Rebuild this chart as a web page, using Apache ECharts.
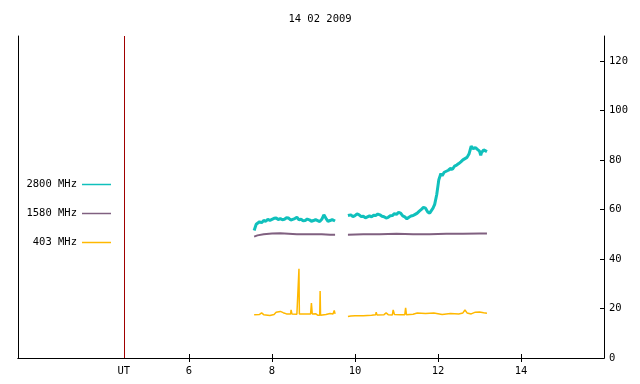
<!DOCTYPE html>
<html>
<head>
<meta charset="utf-8">
<script src="https://cdn.jsdelivr.net/npm/echarts@6/dist/echarts.min.js"></script>
<style>
  html, body { margin: 0; padding: 0; background: #fff; }
  #main { width: 640px; height: 384px; }
</style>
</head>
<body>
<div id="main"></div>
<script>
// hours UT, flux values
var s2800a = [[7.57,51.5],[7.62,54],[7.7,55],[7.75,54.6],[7.8,55.5],[7.85,55.2],[7.9,56],[7.95,55.6],[8.0,56],[8.05,56.4],
  [8.1,56.5],[8.15,55.9],[8.2,56.3],[8.25,55.8],[8.3,56],[8.35,56.6],[8.4,56.5],[8.45,55.7],[8.5,56],[8.55,56.3],
  [8.6,56.8],[8.65,55.8],[8.7,56],[8.75,55.4],[8.8,55.5],[8.85,56.1],[8.9,55.8],[8.95,55.2],[9.0,55.5],[9.05,55.9],
  [9.1,55.5],[9.15,55.1],[9.2,56],[9.25,57.8],[9.3,56.4],[9.35,55.2],[9.4,55.5],[9.45,55.9],[9.52,55.3]];
var s2800b = [[9.83,57.5],[9.87,56.9],[9.9,57.8],[9.95,57.1],[10.0,57.5],[10.05,58.2],[10.1,57.8],[10.15,57.1],[10.2,57.2],
  [10.25,56.6],[10.3,57],[10.35,57.4],[10.4,57],[10.45,57.6],[10.5,57.5],[10.55,58.1],[10.6,57.8],[10.65,57.2],[10.7,57],
  [10.75,56.5],[10.8,56.8],[10.85,57.4],[10.9,57.5],[10.95,58.3],[11.0,58],[11.05,58.8],[11.1,58.5],[11.15,57.4],[11.2,57],
  [11.25,56.2],[11.3,56.8],[11.35,57.3],[11.4,57.5],[11.45,58],[11.5,58.5],[11.55,59.3],[11.6,60],[11.65,60.8],
  [11.7,60.5],[11.75,59],[11.8,58.5],[11.84,59.5],[11.88,60.5],[11.92,62],[11.97,66],[12.02,72],[12.07,74.5],[12.1,73.6],
  [12.15,75],[12.2,75.4],[12.25,75.8],[12.3,76.5],[12.35,76.2],[12.4,77.5],[12.45,77.9],[12.5,78.5],[12.55,79.2],
  [12.6,80],[12.65,80.5],[12.7,81],[12.75,82.5],[12.8,85.5],[12.85,84.5],[12.9,85],[12.95,84.2],[13.0,83.5],
  [13.03,81.8],[13.05,83],[13.1,84],[13.14,83.6],[13.18,83.3]];
var s1580a = [[7.57,49],[7.65,49.5],[7.8,50],[8.0,50.3],[8.2,50.4],[8.4,50.2],[8.6,50],[8.8,50],[9.0,50],[9.2,50],
  [9.4,49.8],[9.52,49.8]];
var s1580b = [[9.83,49.8],[10.2,50],[10.6,50],[11.0,50.2],[11.4,50],[11.8,50],[12.2,50.2],[12.6,50.2],[13.0,50.3],[13.18,50.3]];
var s403a = [[7.57,17.5],[7.7,17.6],[7.75,18.2],[7.8,17.5],[7.95,17.2],[8.05,17.6],[8.1,18.5],[8.2,18.8],[8.27,18.3],
  [8.35,17.8],[8.45,17.8],[8.46,19.4],[8.48,17.8],[8.6,17.7],[8.64,17.8],[8.65,36],[8.66,17.8],[8.8,17.8],[8.93,17.8],
  [8.95,22.2],[8.97,17.8],[9.05,17.9],[9.1,17.3],[9.15,17.3],[9.16,27],[9.17,17.3],[9.3,17.6],[9.4,18],[9.47,17.8],
  [9.5,19.2],[9.52,17.8]];
var s403b = [[9.83,16.8],[9.9,17],[10.0,17.1],[10.2,17.1],[10.4,17.3],[10.5,17.5],[10.51,18.5],[10.53,17.4],[10.7,17.5],
  [10.75,18.2],[10.8,17.5],[10.9,17.4],[10.92,19.4],[10.95,17.6],[11.1,17.5],[11.2,17.5],[11.22,20.3],[11.24,17.5],
  [11.4,17.7],[11.5,18.2],[11.7,18],[11.9,18.2],[12.1,17.6],[12.3,18],[12.5,17.8],[12.6,18.2],[12.65,19.4],[12.7,18.2],
  [12.8,17.8],[12.9,18.5],[13.0,18.6],[13.1,18.3],[13.18,18.1]];
var xTicks = [6, 8, 10, 12, 14];
var yTicks = [0, 20, 40, 60, 80, 100, 120];
var utHour = 4.43;

var font = 'DejaVu Sans Mono';
var fs = 10.5;

function line(name, data, color, width, extra) {
  var s = {
    name: name, type: 'line', data: data, showSymbol: false, symbol: 'none',
    animation: false, silent: true,
    lineStyle: { color: color, width: width }, itemStyle: { color: color }
  };
  if (extra) s.markLine = extra;
  return s;
}

function legend(name, top) {
  return {
    data: [name], right: 529, top: top, padding: 0, align: 'right',
    icon: 'rect', itemWidth: 29, itemHeight: 1.5, selectedMode: false,
    textStyle: { fontFamily: font, fontSize: fs, color: '#000' }
  };
}

var chart = echarts.init(document.getElementById('main'));
chart.setOption({
  animation: false,
  title: {
    text: '14 02 2009', left: 'center', top: 9,
    textStyle: { fontFamily: font, fontSize: fs, fontWeight: 'normal', color: '#000' }
  },
  legend: [legend('2800 MHz', 179), legend('1580 MHz', 208), legend('403 MHz', 237)],
  grid: { left: 18, right: 36, top: 36, bottom: 26 },
  xAxis: [{
    type: 'value', min: 1.88, max: 16, position: 'bottom',
    axisLine: { lineStyle: { color: '#000', width: 1 } },
    axisTick: { inside: true, length: 4, customValues: xTicks, lineStyle: { color: '#000' } },
    axisLabel: { customValues: xTicks, margin: 8, fontFamily: font, fontSize: fs, color: '#000' },
    splitLine: { show: false }
  }, {
    type: 'value', min: 1.88, max: 16, position: 'top',
    axisLine: { lineStyle: { color: '#000', width: 1 } },
    axisTick: { inside: true, length: 4, customValues: xTicks, lineStyle: { color: '#000' } },
    axisLabel: { show: false },
    splitLine: { show: false }
  }],
  yAxis: [{
    type: 'value', min: 0, max: 130, position: 'right',
    axisLine: { show: true, lineStyle: { color: '#000', width: 1 } },
    axisTick: { show: true, inside: true, length: 4, customValues: yTicks, lineStyle: { color: '#000' } },
    axisLabel: { customValues: yTicks, margin: 5, fontFamily: font, fontSize: fs, color: '#000' },
    splitLine: { show: false }
  }, {
    type: 'value', min: 0, max: 130, position: 'left',
    axisLine: { show: true, lineStyle: { color: '#000', width: 1 } },
    axisTick: { show: false }, axisLabel: { show: false }, splitLine: { show: false }
  }],
  series: [
    line('2800 MHz', s2800a, '#10c0bc', 3, {
      silent: true, symbol: 'none', animation: false,
      lineStyle: { color: '#a00000', width: 1, type: 'solid' },
      label: { show: true, position: 'start', formatter: 'UT', distance: 8,
        fontFamily: font, fontSize: fs, color: '#000' },
      data: [{ xAxis: utHour }]
    }),
    line('2800 MHz', s2800b, '#10c0bc', 3),
    line('1580 MHz', s1580a, '#806080', 2),
    line('1580 MHz', s1580b, '#806080', 2),
    line('403 MHz', s403a, '#ffb800', 1.5),
    line('403 MHz', s403b, '#ffb800', 1.5)
  ]
});
</script>
</body>
</html>
